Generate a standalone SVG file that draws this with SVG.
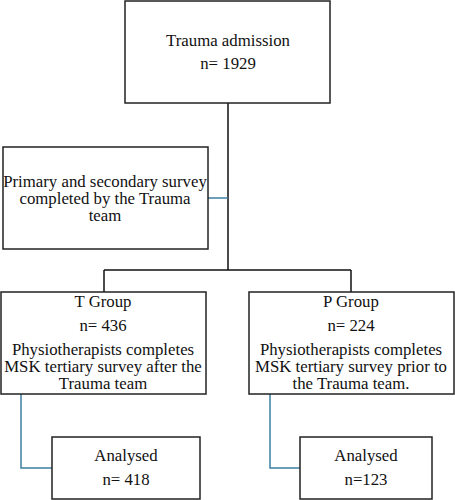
<svg xmlns="http://www.w3.org/2000/svg" width="455" height="500" viewBox="0 0 455 500">
<style>
.box{fill:#fff;stroke:#222;stroke-width:1.5}
.t{font-family:"Liberation Serif","Times New Roman",serif;font-size:16.8px;fill:#111;text-anchor:middle}
.k{fill:none;stroke:#111;stroke-width:1.5}
.b{fill:none;stroke:#3f7fa0;stroke-width:1.5}
</style>
<rect width="455" height="500" fill="#fff"/>
<g id="connectors">
<path class="k" d="M228,103 V270 M104,270 H351 M104,270 V292 M351,270 V292"/>
<path class="b" d="M208,198 H228"/>
<path class="b" d="M21,394 V468 H52"/>
<path class="b" d="M270,394 V468 H300"/>
</g>
<g id="trauma">
<rect class="box" x="125" y="1" width="205" height="102"/>
<text class="t" x="228" y="46">Trauma admission</text>
<text class="t" x="228" y="69">n= 1929</text>
</g>
<g id="survey">
<rect class="box" x="3" y="147" width="205" height="102"/>
<text class="t" x="105" y="187">Primary and secondary survey</text>
<text class="t" x="105" y="204">completed by the Trauma</text>
<text class="t" x="105" y="221">team</text>
</g>
<g id="tgroup">
<rect class="box" x="1" y="292" width="205" height="102"/>
<text class="t" x="103" y="307">T Group</text>
<text class="t" x="103" y="331">n= 436</text>
<text class="t" x="103" y="355">Physiotherapists completes</text>
<text class="t" x="103" y="372">MSK tertiary survey after the</text>
<text class="t" x="103" y="389">Trauma team</text>
</g>
<g id="pgroup">
<rect class="box" x="249" y="292" width="205" height="102"/>
<text class="t" x="351" y="307">P Group</text>
<text class="t" x="351" y="331">n= 224</text>
<text class="t" x="351" y="355">Physiotherapists completes</text>
<text class="t" x="351" y="372">MSK tertiary survey prior to</text>
<text class="t" x="351" y="389">the Trauma team.</text>
</g>
<g id="tanalysed">
<rect class="box" x="52" y="437" width="148" height="62"/>
<text class="t" x="126" y="461">Analysed</text>
<text class="t" x="126" y="485">n= 418</text>
</g>
<g id="panalysed">
<rect class="box" x="300" y="437" width="132" height="62"/>
<text class="t" x="366" y="461">Analysed</text>
<text class="t" x="366" y="485">n=123</text>
</g>
</svg>
